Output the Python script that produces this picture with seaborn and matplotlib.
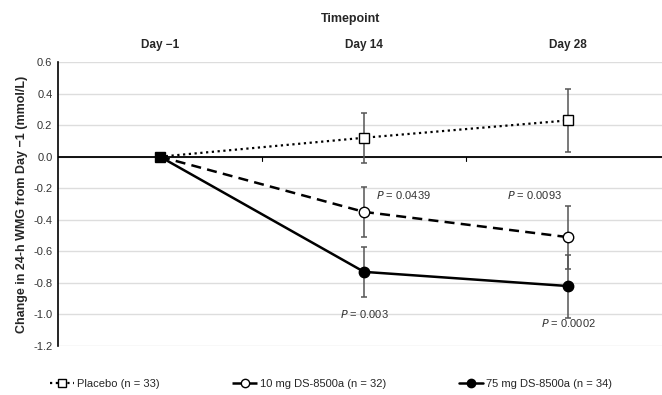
import matplotlib
matplotlib.use("Agg")
import matplotlib.pyplot as plt
from matplotlib.lines import Line2D
import seaborn as sns
import pandas as pd
import numpy as np

timepoints = ["Day \u22121", "Day 14", "Day 28"]
placebo = [0.0, 0.12, 0.23]
placebo_err = [0.0, 0.16, 0.20]
mg10 = [0.0, -0.35, -0.51]
mg10_err = [0.0, 0.16, 0.20]
mg75 = [0.0, -0.73, -0.82]
mg75_err = [0.0, 0.16, 0.20]
labels = ["Placebo (n = 33)", "10 mg DS-8500a (n = 32)", "75 mg DS-8500a (n = 34)"]
y_ticks = [0.6, 0.4, 0.2, 0.0, -0.2, -0.4, -0.6, -0.8, -1.0, -1.2]

sns.set_style("white")
plt.rcParams["font.family"] = ["Liberation Sans", "DejaVu Sans"]

fig = plt.figure(figsize=(6.62, 3.95), dpi=100)
ax = fig.add_axes([0.0876, 0.124, 0.9124, 0.719])

x = np.arange(len(timepoints))
series = [
    (placebo, placebo_err, (0, (1, 1.6)), "s", "white", labels[0], 1.6),
    (mg10, mg10_err, (0, (4, 2.5)), "o", "white", labels[1], 1.8),
    (mg75, mg75_err, "-", "o", "black", labels[2], 1.8),
]

for vals, errs, ls, mk, mfc, lab, lw in series:
    df = pd.DataFrame({"x": x, "y": vals})
    ax.errorbar(x[1:], vals[1:], yerr=errs[1:], fmt="none", ecolor="#555555",
                elinewidth=1.1, capsize=2.5, capthick=1.1, zorder=2)
    sns.lineplot(data=df, x="x", y="y", ax=ax, color="black", linestyle=ls,
                 linewidth=lw, zorder=3, legend=False)
    ax.plot(x[1:], vals[1:], linestyle="none", marker=mk, markersize=7.5,
            markerfacecolor=mfc, markeredgecolor="black", markeredgewidth=1.0, zorder=4)

# Day -1 baseline marker
ax.plot([x[0]], [placebo[0]], marker="s", markersize=7.5, color="black", linestyle="none", zorder=5)

ax.set_xlim(-0.5, 2.46)
ax.set_ylim(-1.2, 0.6)
ax.set_yticks(y_ticks)
ax.set_yticklabels([f"{v:.1f}" for v in y_ticks], fontsize=8, color="#333333")
ax.yaxis.grid(True, color="#dddddd", linewidth=1.0)
ax.set_axisbelow(True)
ax.axhline(0, color="black", linewidth=1.3, zorder=1)
for xb in [0.5, 1.5]:
    ax.plot([xb, xb], [0, -0.025], color="black", linewidth=0.8, zorder=1)

ax.xaxis.tick_top()
ax.set_xticks(x)
ax.set_xticklabels(timepoints, fontsize=8.5, fontweight="bold")
ax.tick_params(axis="x", length=0, pad=8)
ax.tick_params(axis="y", length=0, pad=4)
ax.set_xlabel("")
ax.set_ylabel("Change in 24-h WMG from Day \u22121 (mmol/L)", fontsize=9, fontweight="bold", labelpad=4)
fig.text(0.53, 0.952, "Timepoint", ha="center", va="center", fontsize=9, fontweight="bold")

for s in ["top", "right", "bottom"]:
    ax.spines[s].set_visible(False)
ax.spines["left"].set_color("black")
ax.spines["left"].set_linewidth(1.2)

ann_kw = dict(fontsize=8, color="#333333")
ax.text(1.06, -0.24, r"$\it{P}$ = 0.0439", ha="left", va="center", **ann_kw)
ax.text(1.97, -0.24, r"$\it{P}$ = 0.0093", ha="right", va="center", **ann_kw)
ax.text(1.0, -1.0, r"$\it{P}$ = 0.003", ha="center", va="center", **ann_kw)
ax.text(2.0, -1.055, r"$\it{P}$ = 0.0002", ha="center", va="center", **ann_kw)

handles = [
    Line2D([0], [0], color="black", linestyle=(0, (1, 1.6)), linewidth=1.6, marker="s",
           markerfacecolor="white", markeredgecolor="black", markersize=6),
    Line2D([0], [0], color="black", linestyle=(0, (4, 2.5)), linewidth=1.8, marker="o",
           markerfacecolor="white", markeredgecolor="black", markersize=6),
    Line2D([0], [0], color="black", linestyle="-", linewidth=1.8, marker="o",
           markerfacecolor="black", markeredgecolor="black", markersize=6),
]
fig.legend(handles, labels, loc="center", bbox_to_anchor=(0.5, 0.027), ncol=3,
           frameon=False, fontsize=8, handlelength=2.2, columnspacing=6.5, handletextpad=0.3)

fig.savefig("out.png", dpi=100)
